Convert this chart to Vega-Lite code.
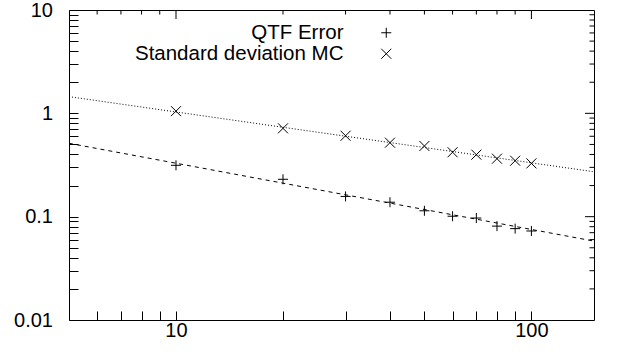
{
  "$schema": "https://vega.github.io/schema/vega-lite/v6.json",
  "width": 525,
  "height": 310,
  "autosize": {"type": "none"},
  "padding": {"left": 69, "top": 10, "right": 25, "bottom": 41},
  "config": {
    "view": {"stroke": "black", "strokeWidth": 1},
    "font": "Liberation Sans",
    "axis": {
      "grid": false,
      "domain": false,
      "ticks": true,
      "labelFontSize": 20,
      "labelColor": "black",
      "labelFont": "Liberation Sans",
      "tickColor": "black",
      "tickWidth": 1,
      "tickOpacity": 1,
      "labelFlush": false,
      "labelOverlap": false,
      "title": null
    }
  },
  "datasets": {
    "pts": [
      {"n": 10, "err": 0.314, "series": "QTF Error"},
      {"n": 20, "err": 0.230, "series": "QTF Error"},
      {"n": 30, "err": 0.157, "series": "QTF Error"},
      {"n": 40, "err": 0.138, "series": "QTF Error"},
      {"n": 50, "err": 0.114, "series": "QTF Error"},
      {"n": 60, "err": 0.101, "series": "QTF Error"},
      {"n": 70, "err": 0.097, "series": "QTF Error"},
      {"n": 80, "err": 0.081, "series": "QTF Error"},
      {"n": 90, "err": 0.0766, "series": "QTF Error"},
      {"n": 100, "err": 0.0727, "series": "QTF Error"},
      {"n": 10, "err": 1.05, "series": "Standard deviation MC"},
      {"n": 20, "err": 0.716, "series": "Standard deviation MC"},
      {"n": 30, "err": 0.607, "series": "Standard deviation MC"},
      {"n": 40, "err": 0.520, "series": "Standard deviation MC"},
      {"n": 50, "err": 0.483, "series": "Standard deviation MC"},
      {"n": 60, "err": 0.420, "series": "Standard deviation MC"},
      {"n": 70, "err": 0.398, "series": "Standard deviation MC"},
      {"n": 80, "err": 0.364, "series": "Standard deviation MC"},
      {"n": 90, "err": 0.348, "series": "Standard deviation MC"},
      {"n": 100, "err": 0.328, "series": "Standard deviation MC"}
    ],
    "fit": [
      {"n": 5, "err": 0.513, "series": "QTF fit"},
      {"n": 150, "err": 0.058, "series": "QTF fit"},
      {"n": 5, "err": 1.45, "series": "MC fit"},
      {"n": 150, "err": 0.272, "series": "MC fit"}
    ],
    "xticks": [
      {"v": 6, "kind": "minor"}, {"v": 7, "kind": "minor"}, {"v": 8, "kind": "minor"}, {"v": 9, "kind": "minor"},
      {"v": 10, "kind": "major"},
      {"v": 20, "kind": "minor"}, {"v": 30, "kind": "minor"}, {"v": 40, "kind": "minor"}, {"v": 50, "kind": "minor"},
      {"v": 60, "kind": "minor"}, {"v": 70, "kind": "minor"}, {"v": 80, "kind": "minor"}, {"v": 90, "kind": "minor"},
      {"v": 100, "kind": "major"}
    ],
    "yticks": [
      {"v": 0.02, "kind": "minor"}, {"v": 0.03, "kind": "minor"}, {"v": 0.04, "kind": "minor"}, {"v": 0.05, "kind": "minor"},
      {"v": 0.06, "kind": "minor"}, {"v": 0.07, "kind": "minor"}, {"v": 0.08, "kind": "minor"}, {"v": 0.09, "kind": "minor"},
      {"v": 0.1, "kind": "major"},
      {"v": 0.2, "kind": "minor"}, {"v": 0.3, "kind": "minor"}, {"v": 0.4, "kind": "minor"}, {"v": 0.5, "kind": "minor"},
      {"v": 0.6, "kind": "minor"}, {"v": 0.7, "kind": "minor"}, {"v": 0.8, "kind": "minor"}, {"v": 0.9, "kind": "minor"},
      {"v": 1, "kind": "major"},
      {"v": 2, "kind": "minor"}, {"v": 3, "kind": "minor"}, {"v": 4, "kind": "minor"}, {"v": 5, "kind": "minor"},
      {"v": 6, "kind": "minor"}, {"v": 7, "kind": "minor"}, {"v": 8, "kind": "minor"}, {"v": 9, "kind": "minor"}
    ]
  },
  "layer": [
    {
      "data": {"name": "fit"},
      "mark": {"type": "line", "color": "black", "strokeWidth": 1, "clip": true},
      "encoding": {
        "x": {
          "field": "n", "type": "quantitative",
          "scale": {"type": "log", "domain": [5, 150], "nice": false},
          "axis": {
            "orient": "bottom",
            "values": [6, 7, 8, 9, 10, 20, 30, 40, 50, 60, 70, 80, 90, 100],
            "format": "~g",
            "labelExpr": "datum.value == 10 || datum.value == 100 ? datum.label : ''",
            "tickSize": -9,
            "labelPadding": 9,
            "encode": {"ticks": {"update": {"y2": {"signal": "datum.value == 10 || datum.value == 100 ? -9 : -4.5"}}}}
          }
        },
        "y": {
          "field": "err", "type": "quantitative",
          "scale": {"type": "log", "domain": [0.01, 10], "nice": false},
          "axis": {
            "orient": "left",
            "values": [0.01, 0.02, 0.03, 0.04, 0.05, 0.06, 0.07, 0.08, 0.09, 0.1, 0.2, 0.3, 0.4, 0.5, 0.6, 0.7, 0.8, 0.9, 1, 2, 3, 4, 5, 6, 7, 8, 9, 10],
            "format": "~g",
            "labelExpr": "abs(log(datum.value)/LN10 - round(log(datum.value)/LN10)) < 1e-6 ? datum.label : ''",
            "tickSize": -9,
            "labelPadding": 25.5,
            "encode": {"ticks": {"update": {"x2": {"signal": "abs(log(datum.value)/LN10 - round(log(datum.value)/LN10)) < 1e-6 ? 9 : 4.5"}}}}
          }
        },
        "detail": {"field": "series"},
        "strokeDash": {
          "field": "series", "type": "nominal",
          "scale": {"domain": ["QTF fit", "MC fit"], "range": [[4, 4], [1, 2]]},
          "legend": null
        }
      }
    },
    {
      "data": {"name": "pts"},
      "mark": {"type": "point", "filled": false, "color": "black", "strokeWidth": 1, "size": 100, "opacity": 1},
      "encoding": {
        "x": {"field": "n", "type": "quantitative"},
        "y": {"field": "err", "type": "quantitative"},
        "shape": {
          "field": "series", "type": "nominal",
          "scale": {"domain": ["QTF Error", "Standard deviation MC"], "range": ["M-1,0H1M0,-1V1", "M-1,-1L1,1M-1,1L1,-1"]},
          "legend": {
            "orient": "none",
            "legendX": 307,
            "legendY": 12.5,
            "title": null,
            "padding": 0,
            "rowPadding": 0,
            "symbolSize": 100,
            "symbolStrokeColor": "black",
            "symbolFillColor": "transparent",
            "symbolStrokeWidth": 1,
            "labelFontSize": 20.5,
            "labelFont": "Liberation Sans",
            "labelColor": "black",
            "labelAlign": "right",
            "labelOffset": -53,
            "labelLimit": 400
          }
        }
      }
    },
    {
      "data": {"name": "xticks"},
      "mark": {"type": "tick", "orient": "vertical", "color": "black", "thickness": 1, "opacity": 1, "clip": true},
      "encoding": {
        "x": {"field": "v", "type": "quantitative"},
        "y": {"datum": 10, "type": "quantitative"},
        "size": {"field": "kind", "type": "nominal", "scale": {"domain": ["major", "minor"], "range": [18, 9]}, "legend": null}
      }
    },
    {
      "data": {"name": "yticks"},
      "mark": {"type": "tick", "orient": "horizontal", "color": "black", "thickness": 1, "opacity": 1, "clip": true},
      "encoding": {
        "y": {"field": "v", "type": "quantitative"},
        "x": {"datum": 150, "type": "quantitative"},
        "size": {"field": "kind", "type": "nominal", "scale": {"domain": ["major", "minor"], "range": [18, 9]}, "legend": null}
      }
    }
  ]
}
